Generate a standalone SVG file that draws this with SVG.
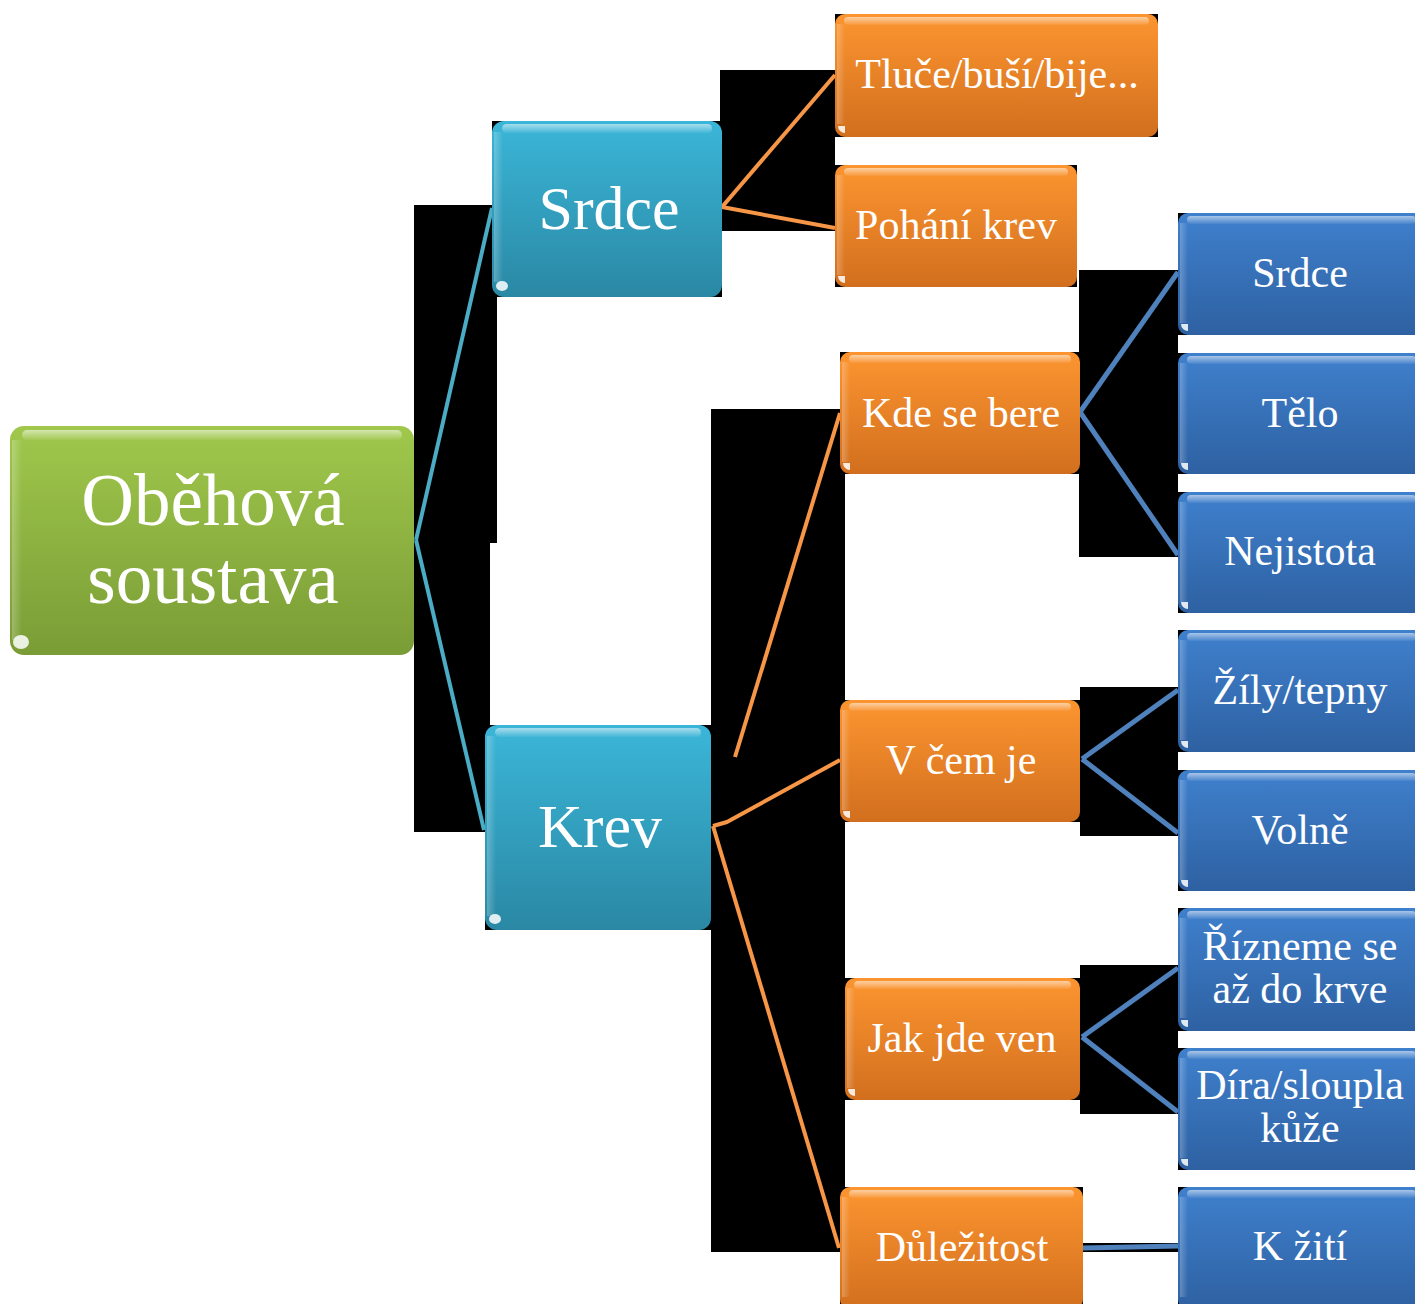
<svg xmlns="http://www.w3.org/2000/svg" width="1415" height="1304" viewBox="0 0 1415 1304">
<defs>
<linearGradient id="gGreen" x1="0" y1="0" x2="0" y2="1"><stop offset="0" stop-color="#a0c84c"/><stop offset="1" stop-color="#7a9c36"/></linearGradient>
<linearGradient id="gTeal" x1="0" y1="0" x2="0" y2="1"><stop offset="0" stop-color="#3bb6d8"/><stop offset="1" stop-color="#2a88a4"/></linearGradient>
<linearGradient id="gOrange" x1="0" y1="0" x2="0" y2="1"><stop offset="0" stop-color="#fc9530"/><stop offset="1" stop-color="#d26f1e"/></linearGradient>
<linearGradient id="gBlue" x1="0" y1="0" x2="0" y2="1"><stop offset="0" stop-color="#3f80cd"/><stop offset="1" stop-color="#2e61a2"/></linearGradient>
<linearGradient id="gGloss" x1="0" y1="0" x2="0" y2="1"><stop offset="0" stop-color="#ffffff" stop-opacity="0.55"/><stop offset="1" stop-color="#ffffff" stop-opacity="0.05"/></linearGradient>
<linearGradient id="gLeft" x1="0" y1="0" x2="1" y2="0"><stop offset="0" stop-color="#ffffff" stop-opacity="0.25"/><stop offset="1" stop-color="#ffffff" stop-opacity="0"/></linearGradient>
</defs>
<style>
.bk{fill:#000}
.gl{fill:url(#gGloss)}
.lf{fill:url(#gLeft)}
.hl{fill:#fff;opacity:0.85}
.t{font-family:"Liberation Serif","Times New Roman",serif;fill:#fff;text-anchor:middle}
.f42{font-size:42px}
.f62{font-size:62px}
.f73{font-size:73px}
.c{fill:none;stroke-linejoin:round}
.ct{stroke:#4bacc6;stroke-width:4}
.co{stroke:#f79646;stroke-width:4}
.cb{stroke:#4f81bd;stroke-width:5}
</style>
<rect width="1415" height="1304" fill="#fff"/>
<g id="backdrops">
<rect class="bk" x="414" y="205" width="83" height="338"/>
<rect class="bk" x="414" y="543" width="76" height="289"/>
<rect class="bk" x="720" y="70" width="115" height="161"/>
<rect class="bk" x="711" y="409" width="134" height="843"/>
<rect class="bk" x="1079" y="270" width="99" height="287"/>
<rect class="bk" x="1080" y="687" width="98" height="149"/>
<rect class="bk" x="1080" y="965" width="98" height="149"/>
<rect class="bk" x="1083" y="1243" width="95" height="9"/>
</g>
<g id="connectors">
<path class="c ct" d="M416,540 L492,208"/>
<path class="c ct" d="M416,540 L484,830"/>
<path class="c co" d="M722,207 L835,75"/>
<path class="c co" d="M722,207 L835,228"/>
<path class="c co" d="M735,757 L840,413"/>
<path class="c co" d="M713,826 L727,822 L840,760"/>
<path class="c co" d="M713,826 L839,1248"/>
<path class="c cb" d="M1080,412 L1178,272"/>
<path class="c cb" d="M1080,412 L1178,555"/>
<path class="c cb" d="M1082,759 L1178,690"/>
<path class="c cb" d="M1082,759 L1178,833"/>
<path class="c cb" d="M1082,1037 L1178,968"/>
<path class="c cb" d="M1082,1037 L1178,1112"/>
<path class="c cb" d="M1083,1248 L1178,1246"/>
</g>
<g id="n-root">
<rect x="10" y="426" width="404" height="229" rx="14" fill="url(#gGreen)"/>
<rect class="gl" x="22" y="430" width="380" height="10" rx="5"/>
<rect class="lf" x="12" y="440" width="10" height="200"/>
<ellipse class="hl" cx="21" cy="642" rx="8" ry="7"/>
<text class="t f73" x="213" y="525">Oběhová</text>
<text class="t f73" x="213" y="603">soustava</text>
</g>
<g id="n-srdce">
<rect class="bk" x="492" y="121" width="230" height="176"/>
<rect x="492" y="121" width="230" height="176" rx="12" fill="url(#gTeal)"/>
<rect class="gl" x="502" y="124" width="210" height="9" rx="4.5"/>
<rect class="lf" x="494" y="132" width="9" height="150"/>
<ellipse class="hl" cx="502" cy="286" rx="6" ry="5"/>
<text class="t f62" x="609" y="229">Srdce</text>
</g>
<g id="n-krev">
<rect class="bk" x="485" y="725" width="226" height="205"/>
<rect x="485" y="725" width="226" height="205" rx="12" fill="url(#gTeal)"/>
<rect class="gl" x="495" y="728" width="206" height="9" rx="4.5"/>
<rect class="lf" x="487" y="736" width="9" height="180"/>
<ellipse class="hl" cx="495" cy="919" rx="6" ry="5"/>
<text class="t f62" x="600" y="847">Krev</text>
</g>
<g id="n-tluce">
<rect class="bk" x="835" y="14" width="323" height="123"/>
<rect x="835" y="14" width="323" height="123" rx="10" fill="url(#gOrange)"/>
<rect class="gl" x="844" y="17" width="305" height="8" rx="4"/>
<rect class="lf" x="837" y="24" width="8" height="100"/>
<path class="hl" d="M838,126 L845,126 L845,133 A7,7 0 0 1 838,126 Z"/>
<text class="t f42" x="997" y="88">Tluče/buší/bije...</text>
</g>
<g id="n-pohani">
<rect class="bk" x="835" y="165" width="242" height="122"/>
<rect x="835" y="165" width="242" height="122" rx="10" fill="url(#gOrange)"/>
<rect class="gl" x="844" y="168" width="224" height="8" rx="4"/>
<rect class="lf" x="837" y="175" width="8" height="100"/>
<path class="hl" d="M838,276 L845,276 L845,283 A7,7 0 0 1 838,276 Z"/>
<text class="t f42" x="956" y="239">Pohání krev</text>
</g>
<g id="n-kde">
<rect class="bk" x="840" y="352" width="240" height="122"/>
<rect x="840" y="352" width="240" height="122" rx="10" fill="url(#gOrange)"/>
<rect class="gl" x="849" y="355" width="222" height="8" rx="4"/>
<rect class="lf" x="842" y="362" width="8" height="100"/>
<path class="hl" d="M843,463 L850,463 L850,470 A7,7 0 0 1 843,463 Z"/>
<text class="t f42" x="961" y="427">Kde se bere</text>
</g>
<g id="n-vcem">
<rect class="bk" x="840" y="700" width="240" height="122"/>
<rect x="840" y="700" width="240" height="122" rx="10" fill="url(#gOrange)"/>
<rect class="gl" x="849" y="703" width="222" height="8" rx="4"/>
<rect class="lf" x="842" y="710" width="8" height="100"/>
<path class="hl" d="M843,811 L850,811 L850,818 A7,7 0 0 1 843,811 Z"/>
<text class="t f42" x="961" y="774">V čem je</text>
</g>
<g id="n-jak">
<rect class="bk" x="845" y="978" width="235" height="122"/>
<rect x="845" y="978" width="235" height="122" rx="10" fill="url(#gOrange)"/>
<rect class="gl" x="854" y="981" width="217" height="8" rx="4"/>
<rect class="lf" x="847" y="988" width="8" height="100"/>
<path class="hl" d="M848,1089 L855,1089 L855,1096 A7,7 0 0 1 848,1089 Z"/>
<text class="t f42" x="962" y="1052">Jak jde ven</text>
</g>
<g id="n-dulez">
<rect class="bk" x="840" y="1187" width="243" height="122"/>
<rect x="840" y="1187" width="243" height="122" rx="10" fill="url(#gOrange)"/>
<rect class="gl" x="849" y="1190" width="225" height="8" rx="4"/>
<rect class="lf" x="842" y="1197" width="8" height="100"/>
<text class="t f42" x="962" y="1261">Důležitost</text>
</g>
<g id="n-b-srdce">
<rect class="bk" x="1178" y="213" width="247" height="122"/>
<rect x="1178" y="213" width="247" height="122" rx="10" fill="url(#gBlue)"/>
<rect class="gl" x="1187" y="216" width="229" height="8" rx="4"/>
<rect class="lf" x="1180" y="223" width="8" height="100"/>
<path class="hl" d="M1181,324 L1188,324 L1188,331 A7,7 0 0 1 1181,324 Z"/>
<text class="t f42" x="1300" y="287">Srdce</text>
</g>
<g id="n-telo">
<rect class="bk" x="1178" y="353" width="247" height="121"/>
<rect x="1178" y="353" width="247" height="121" rx="10" fill="url(#gBlue)"/>
<rect class="gl" x="1187" y="356" width="229" height="8" rx="4"/>
<rect class="lf" x="1180" y="363" width="8" height="100"/>
<path class="hl" d="M1181,463 L1188,463 L1188,470 A7,7 0 0 1 1181,463 Z"/>
<text class="t f42" x="1300" y="427">Tělo</text>
</g>
<g id="n-nejistota">
<rect class="bk" x="1178" y="492" width="247" height="121"/>
<rect x="1178" y="492" width="247" height="121" rx="10" fill="url(#gBlue)"/>
<rect class="gl" x="1187" y="495" width="229" height="8" rx="4"/>
<rect class="lf" x="1180" y="502" width="8" height="100"/>
<path class="hl" d="M1181,602 L1188,602 L1188,609 A7,7 0 0 1 1181,602 Z"/>
<text class="t f42" x="1300" y="565">Nejistota</text>
</g>
<g id="n-zily">
<rect class="bk" x="1178" y="630" width="247" height="122"/>
<rect x="1178" y="630" width="247" height="122" rx="10" fill="url(#gBlue)"/>
<rect class="gl" x="1187" y="633" width="229" height="8" rx="4"/>
<rect class="lf" x="1180" y="640" width="8" height="100"/>
<path class="hl" d="M1181,741 L1188,741 L1188,748 A7,7 0 0 1 1181,741 Z"/>
<text class="t f42" x="1300" y="704">Žíly/tepny</text>
</g>
<g id="n-volne">
<rect class="bk" x="1178" y="770" width="247" height="121"/>
<rect x="1178" y="770" width="247" height="121" rx="10" fill="url(#gBlue)"/>
<rect class="gl" x="1187" y="773" width="229" height="8" rx="4"/>
<rect class="lf" x="1180" y="780" width="8" height="100"/>
<path class="hl" d="M1181,880 L1188,880 L1188,887 A7,7 0 0 1 1181,880 Z"/>
<text class="t f42" x="1300" y="844">Volně</text>
</g>
<g id="n-rizneme">
<rect class="bk" x="1178" y="908" width="247" height="123"/>
<rect x="1178" y="908" width="247" height="123" rx="10" fill="url(#gBlue)"/>
<rect class="gl" x="1187" y="911" width="229" height="8" rx="4"/>
<rect class="lf" x="1180" y="918" width="8" height="100"/>
<path class="hl" d="M1181,1020 L1188,1020 L1188,1027 A7,7 0 0 1 1181,1020 Z"/>
<text class="t f42" x="1300" y="960">Řízneme se</text>
<text class="t f42" x="1300" y="1003">až do krve</text>
</g>
<g id="n-dira">
<rect class="bk" x="1178" y="1048" width="247" height="122"/>
<rect x="1178" y="1048" width="247" height="122" rx="10" fill="url(#gBlue)"/>
<rect class="gl" x="1187" y="1051" width="229" height="8" rx="4"/>
<rect class="lf" x="1180" y="1058" width="8" height="100"/>
<path class="hl" d="M1181,1159 L1188,1159 L1188,1166 A7,7 0 0 1 1181,1159 Z"/>
<text class="t f42" x="1300" y="1099">Díra/sloupla</text>
<text class="t f42" x="1300" y="1142">kůže</text>
</g>
<g id="n-kziti">
<rect class="bk" x="1178" y="1187" width="247" height="122"/>
<rect x="1178" y="1187" width="247" height="122" rx="10" fill="url(#gBlue)"/>
<rect class="gl" x="1187" y="1190" width="229" height="8" rx="4"/>
<rect class="lf" x="1180" y="1197" width="8" height="100"/>
<text class="t f42" x="1300" y="1260">K žití</text>
</g>
</svg>
